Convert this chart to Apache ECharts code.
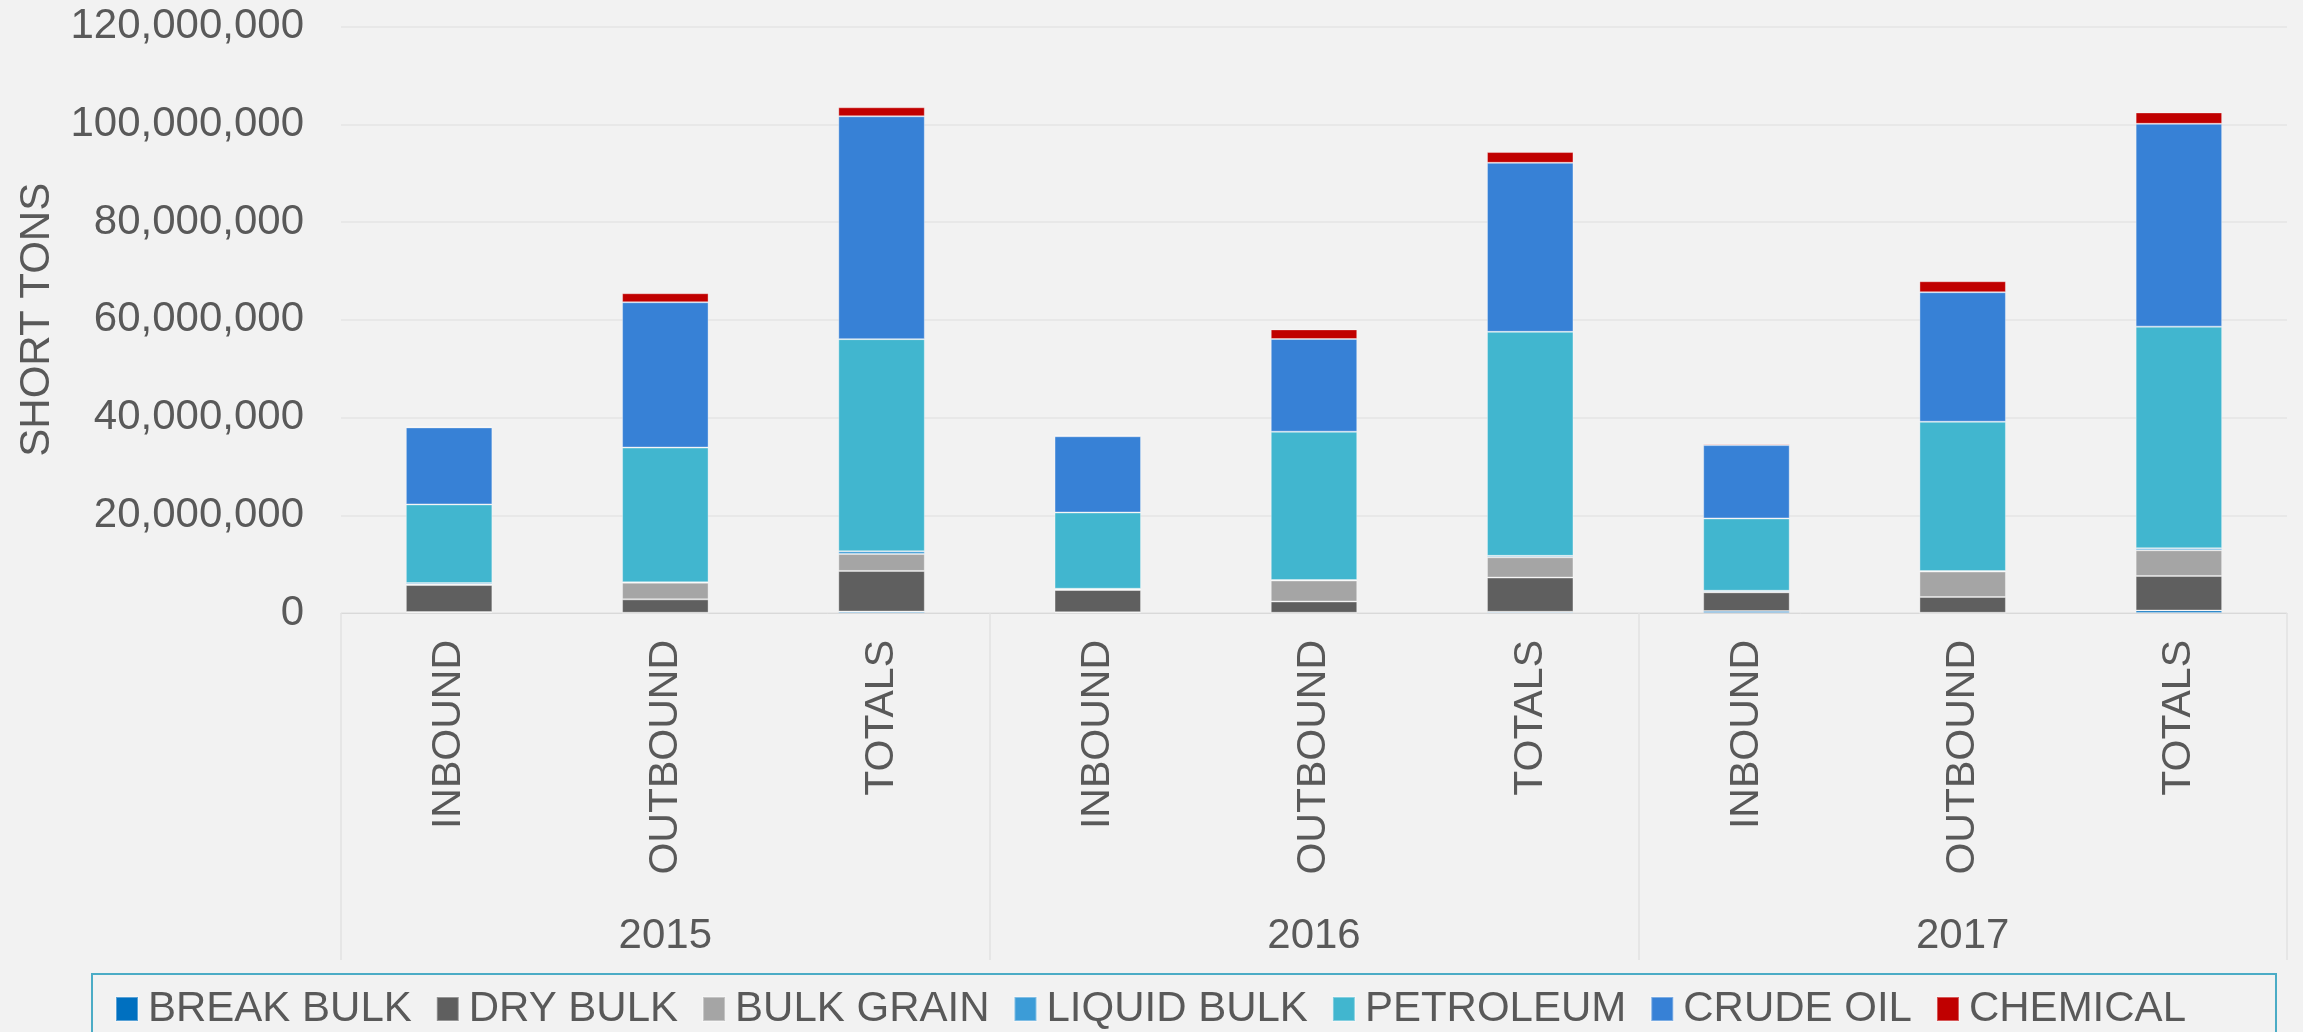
<!DOCTYPE html>
<html>
<head>
<meta charset="utf-8">
<script src="https://cdn.jsdelivr.net/npm/echarts@6/dist/echarts.min.js"></script>
<style>
html,body{margin:0;padding:0;background:#F2F2F2;}
#chart{width:2303px;height:1032px;}
</style>
</head>
<body>
<div id="chart"></div>
<script>
// Categories
const subCategories = ['INBOUND','OUTBOUND','TOTALS','INBOUND','OUTBOUND','TOTALS','INBOUND','OUTBOUND','TOTALS'];
const years = ['2015','2016','2017'];
const yTicks = [0, 20000000, 40000000, 60000000, 80000000, 100000000, 120000000];

// Series values (short tons)
const breakBulk  = [200000, 50000, 300000, 150000, 50000, 250000, 400000, 50000, 500000];
const dryBulk    = [5520000, 2740000, 8300000, 4560000, 2300000, 7000000, 3830000, 3230000, 7080000];
const bulkGrain  = [100000, 3400000, 3480000, 50000, 4300000, 4150000, 50000, 5200000, 5260000];
const liquidBulk = [300000, 100000, 550000, 200000, 100000, 300000, 270000, 100000, 400000];
const petroleum  = [16100000, 27560000, 43400000, 15600000, 30340000, 45830000, 14800000, 30550000, 45350000];
const crudeOil   = [15750000, 29730000, 45600000, 15600000, 18970000, 34580000, 15000000, 26500000, 41500000];
const chemical   = [200000, 1840000, 1840000, 200000, 1970000, 2200000, 270000, 2250000, 2330000];

const seriesNames = ['BREAK BULK','DRY BULK','BULK GRAIN','LIQUID BULK','PETROLEUM','CRUDE OIL','CHEMICAL'];
const seriesValues = [breakBulk, dryBulk, bulkGrain, liquidBulk, petroleum, crudeOil, chemical];
const seriesColors = ['#0070C0','#5F5F5F','#A5A5A5','#3C9CD7','#41B6CF','#3781D6','#C00000'];

const FONT = "'Liberation Sans', Arial, sans-serif";
const TXT = '#595959';

const chart = echarts.init(document.getElementById('chart'), null, {renderer:'canvas'});
chart.setOption({
  backgroundColor: '#F2F2F2',
  animation: false,
  textStyle: {fontFamily: FONT},
  grid: {left: 341, right: 16, top: 26.5, bottom: 419, containLabel: false},
  legend: {
    left: 92, top: 974,
    padding: [14, 90, 20, 23],
    borderColor: '#4BACC6', borderWidth: 2,
    itemWidth: 22, itemHeight: 24, itemGap: 24,
    icon: 'rect',
    data: seriesNames,
    textStyle: {fontFamily: FONT, fontSize: 42, color: TXT, padding: [0,0,0,5]}
  },
  xAxis: [
    {
      type: 'category', position: 'bottom', data: subCategories,
      axisLine: {show: true, lineStyle: {color: '#D9D9D9', width: 1}},
      axisTick: {show: false},
      axisLabel: {rotate: 90, margin: 27, fontSize: 41, color: TXT, fontFamily: FONT, interval: 0}
    },
    {
      type: 'category', position: 'bottom', data: years,
      axisLine: {show: false},
      axisTick: {show: true, length: 347, lineStyle: {color: '#E2E2E2', width: 1.5}},
      axisLabel: {margin: 302, fontSize: 42, color: TXT, fontFamily: FONT},
      splitLine: {show: false}
    }
  ],
  yAxis: {
    type: 'value', min: yTicks[0], max: yTicks[yTicks.length-1], interval: yTicks[1]-yTicks[0],
    name: 'SHORT TONS', nameLocation: 'middle', nameGap: 283,
    nameTextStyle: {fontSize: 42, color: TXT, fontFamily: FONT},
    axisLine: {show: false}, axisTick: {show: false},
    axisLabel: {margin: 37, fontSize: 42, color: TXT, fontFamily: FONT,
      formatter: v => v.toLocaleString('en-US')},
    splitLine: {lineStyle: {color: '#E4E4E4', width: 1.5}}
  },
  series: seriesNames.map((name, i) => ({
    name: name, type: 'bar', stack: 'total', xAxisIndex: 0,
    barWidth: '40%',
    data: seriesValues[i],
    itemStyle: {color: seriesColors[i], borderColor: 'rgba(255,255,255,0.35)', borderWidth: 1}
  }))
});
</script>
</body>
</html>
